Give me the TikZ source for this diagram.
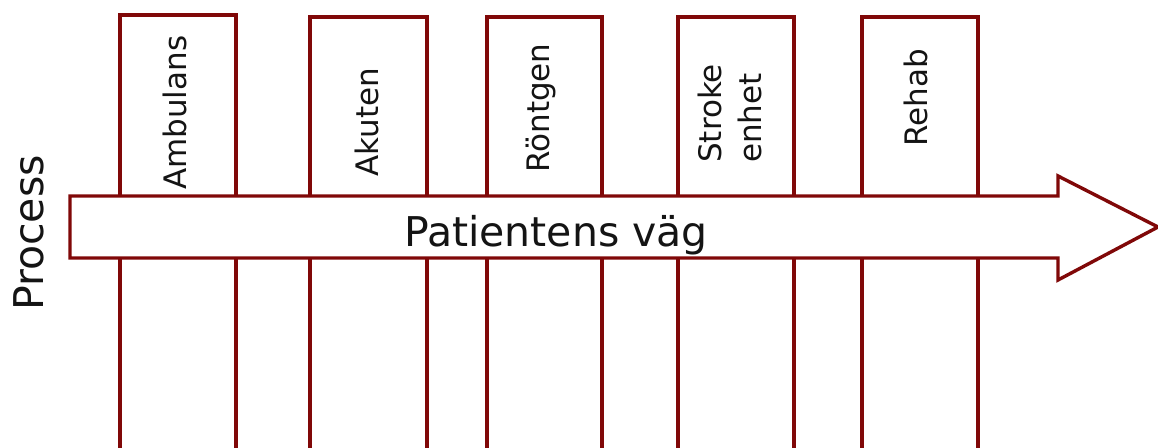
\documentclass[tikz,border=0pt]{standalone}
\usepackage{fontspec}
\setmainfont{DejaVu Sans}
\definecolor{lane}{RGB}{128,8,8}
\definecolor{ink}{RGB}{20,20,20}
\begin{document}
\begin{tikzpicture}[x=1pt,y=-1pt,
  laneline/.style={draw=lane,line width=3.4pt,line join=miter},
  lanelabel/.style={rotate=90,inner sep=0pt,text=ink,align=left,
    font=\fontsize{31}{40}\selectfont,anchor=north west},
  biglabel/.style={inner sep=0pt,text=ink,font=\fontsize{41}{48}\selectfont}]
\useasboundingbox (0,0) rectangle (1158,447);
\clip (0,0) rectangle (1158,447);
\fill[white] (0,0) rectangle (1158,447);
% swimlane columns, open at the bottom
\draw[laneline] (120,470) -- (120,15) -- (236,15) -- (236,470);
\draw[laneline] (310,470) -- (310,17) -- (427,17) -- (427,470);
\draw[laneline] (487,470) -- (487,17) -- (602,17) -- (602,470);
\draw[laneline] (678,470) -- (678,17) -- (794,17) -- (794,470);
\draw[laneline] (862,470) -- (862,17) -- (978,17) -- (978,470);
% column titles
\node[lanelabel] (amb) at (163,190) {Ambulans};
\node[lanelabel] (aku) at (355,177) {Akuten};
\node[lanelabel] (ront) at (526,173) {Röntgen};
\node[lanelabel] (stroke) at (698,163) {Stroke\\enhet};
\node[lanelabel] (rehab) at (904,147) {Rehab};
% the patient's path across all columns
\draw[laneline,fill=white] (70,196) -- (1058,196) -- (1058,176) -- (1158,227)
  -- (1058,280) -- (1058,258) -- (70,258) -- cycle;
\node[biglabel,anchor=base] (path) at (556,246) {Patientens väg};
\node[biglabel,rotate=90,anchor=base] (proc) at (43,233) {Process};
\end{tikzpicture}
\end{document}
